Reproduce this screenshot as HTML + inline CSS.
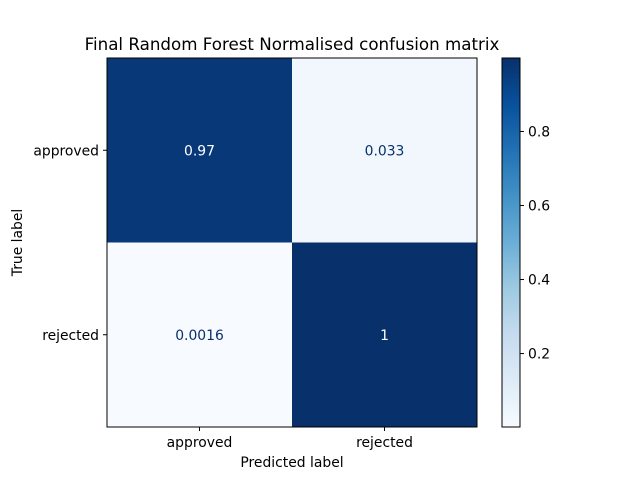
<!DOCTYPE html>
<html><head><meta charset="utf-8"><style>
body{margin:0;background:#fff;}
svg{display:block;font-family:"DejaVu Sans","Liberation Sans",sans-serif;}
</style></head><body>
<svg id="chart" width="640" height="480" xmlns="http://www.w3.org/2000/svg"></svg>
<script>
const classes = ["approved","rejected"];
const values = [[0.967, 0.033],[0.0016, 0.9984]];
const labels = [["0.97","0.033"],["0.0016","1"]];
const cbTicks = [0.2,0.4,0.6,0.8];
const vmin = 0.0016, vmax = 0.9984;

const NS="http://www.w3.org/2000/svg";
const svg=document.getElementById('chart');
const FS=13.9;
function mk(t,a,txt){const e=document.createElementNS(NS,t);for(const k in a)e.setAttribute(k,a[k]);if(txt!=null)e.textContent=txt;svg.appendChild(e);return e;}
const stops=["#f7fbff","#deebf7","#c6dbef","#9ecae1","#6baed6","#4292c6","#2171b5","#08519c","#08306b"].map(h=>[parseInt(h.slice(1,3),16),parseInt(h.slice(3,5),16),parseInt(h.slice(5,7),16)]);
function cmap(v){let t=(v-vmin)/(vmax-vmin);t=Math.max(0,Math.min(1,t))*(stops.length-1);const i=Math.min(Math.floor(t),stops.length-2),f=t-i;const c=stops[i].map((x,k)=>Math.round(x+(stops[i+1][k]-x)*f));return `rgb(${c[0]},${c[1]},${c[2]})`;}
const L=107,R=477,T=58,B=427;
const cw=(R-L)/classes.length, ch=(B-T)/classes.length;
const xPos=j=>L+cw*(j+0.5), yPos=i=>T+ch*(i+0.5);
for(let i=0;i<classes.length;i++)for(let j=0;j<classes.length;j++){
  const r=mk('rect',{x:L+cw*j,y:T+ch*i,width:cw,height:ch,fill:cmap(values[i][j])});
  
  
  const t=mk('text',{x:xPos(j),y:yPos(i)+5,'text-anchor':'middle','font-size':FS,fill:values[i][j]>(vmin+vmax)/2?'#fff':'#08306b'},labels[i][j]);
  
  
}
const fr=mk('rect',{x:L,y:T,width:R-L,height:B-T,fill:'none',stroke:'#000','stroke-width':1});

classes.forEach((c,k)=>{
  mk('line',{x1:xPos(k),x2:xPos(k),y1:B,y2:B+4,stroke:'#000'});
  const xl=mk('text',{x:xPos(k),y:B+20,'text-anchor':'middle','font-size':FS},c);
  
  mk('line',{x1:L-4,x2:L,y1:yPos(k),y2:yPos(k),stroke:'#000'});
  const yl=mk('text',{x:L-8,y:yPos(k)+5,'text-anchor':'end','font-size':FS},c);
  
});
const xt=mk('text',{x:(L+R)/2,y:467,'text-anchor':'middle','font-size':FS},'Predicted label');

const yt=mk('text',{x:22,y:(T+B)/2,'text-anchor':'middle','font-size':FS,transform:`rotate(-90 22 ${(T+B)/2})`},'True label');

const tt=mk('text',{x:(L+R)/2,y:50,'text-anchor':'middle','font-size':16.7},'Final Random Forest Normalised confusion matrix');

const CL=502,CR=520;
const defs=mk('defs',{});
const g=document.createElementNS(NS,'linearGradient');g.setAttribute('id','cb');g.setAttribute('x1','0');g.setAttribute('y1','1');g.setAttribute('x2','0');g.setAttribute('y2','0');
stops.forEach((s,k)=>{const st=document.createElementNS(NS,'stop');st.setAttribute('offset',k/(stops.length-1));st.setAttribute('stop-color',`rgb(${s})`);g.appendChild(st);});
defs.appendChild(g);
const cb=mk('rect',{x:CL,y:T,width:CR-CL,height:B-T,fill:'url(#cb)',stroke:'#000','stroke-width':1});

const cy=v=>B-(v-vmin)/(vmax-vmin)*(B-T);
cbTicks.forEach(v=>{
  mk('line',{x1:CR,x2:CR+4,y1:cy(v),y2:cy(v),stroke:'#000'});
  const l=mk('text',{x:CR+8,y:cy(v)+5,'font-size':FS},v.toFixed(1));
  
});
</script>
</body></html>
